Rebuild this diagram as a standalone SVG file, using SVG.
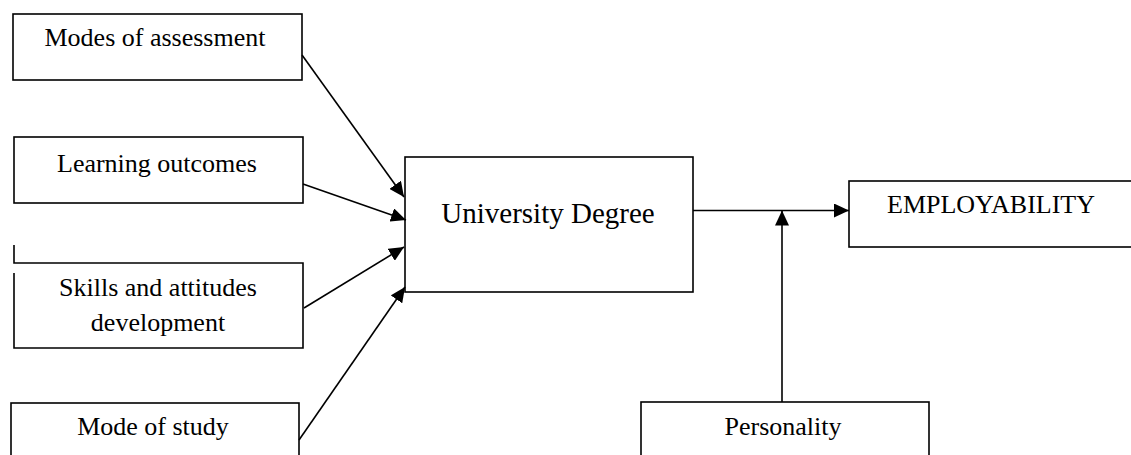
<svg xmlns="http://www.w3.org/2000/svg" width="1131" height="455" viewBox="0 0 1131 455">
<style>
.box{fill:#fff;stroke:#000;stroke-width:1.6}
.t{font-family:"Liberation Serif","Times New Roman",serif;font-size:26px;fill:#000;text-anchor:middle}
.big{font-size:29px}
.c{stroke:#000;stroke-width:1.6;fill:none;marker-end:url(#ah)}
</style>
<defs>
<marker id="ah" markerUnits="userSpaceOnUse" markerWidth="16" markerHeight="14" refX="15" refY="7" orient="auto">
<path d="M0,0 L15,7 L0,14 Z" fill="#000"/>
</marker>
</defs>
<rect width="1131" height="455" fill="#fff"/>
<g id="modes-of-assessment">
<rect class="box" x="13" y="14" width="289" height="66"/>
<text class="t" x="155" y="46">Modes of assessment</text>
</g>
<g id="learning-outcomes">
<rect class="box" x="14" y="137" width="289" height="66"/>
<text class="t" x="157" y="172">Learning outcomes</text>
</g>
<g id="skills-attitudes">
<path class="box" d="M14,245 V263 H303 V348 H14 V273"/>
<text class="t" x="158" y="296">Skills and attitudes</text>
<text class="t" x="158" y="331">development</text>
</g>
<g id="mode-of-study">
<rect class="box" x="11" y="403" width="288" height="70"/>
<text class="t" x="153" y="435">Mode of study</text>
</g>
<g id="university-degree">
<rect class="box" x="405" y="157" width="288" height="135"/>
<text class="t big" x="548" y="223">University Degree</text>
</g>
<g id="employability">
<rect class="box" x="849" y="181" width="300" height="66"/>
<text class="t" x="991" y="213">EMPLOYABILITY</text>
</g>
<g id="personality">
<rect class="box" x="641" y="402" width="288" height="70"/>
<text class="t" x="783" y="435">Personality</text>
</g>
<g id="connectors">
<line class="c" x1="302" y1="55" x2="404" y2="197"/>
<line class="c" x1="303" y1="184" x2="406" y2="220"/>
<line class="c" x1="304" y1="308" x2="404" y2="247"/>
<line class="c" x1="299" y1="440" x2="405" y2="287"/>
<line class="c" x1="693" y1="210.5" x2="849" y2="210.5"/>
<line class="c" x1="782" y1="402" x2="782" y2="210.5"/>
</g>
</svg>
